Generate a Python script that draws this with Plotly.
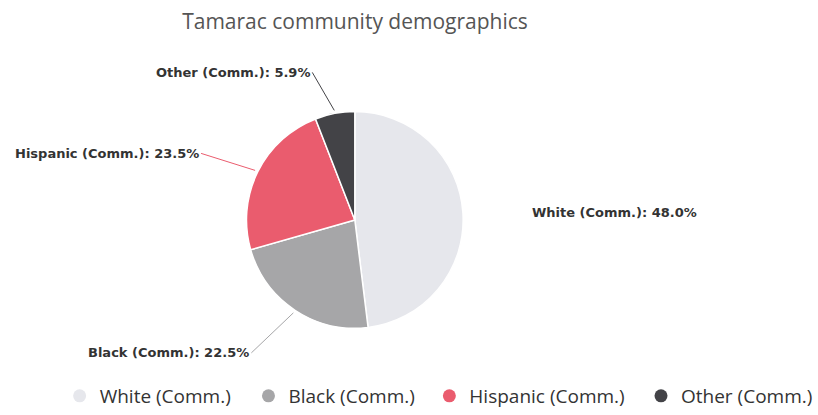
import math
import plotly.graph_objects as go

# ---- data ----
categories = ["White (Comm.)", "Black (Comm.)", "Hispanic (Comm.)", "Other (Comm.)"]
shares = [48.0, 22.5, 23.5, 5.9]
title_text = "Tamarac community demographics"

# ---- style ----
colors = ["#e6e7ec", "#a6a6a8", "#ea5c6e", "#434347"]
connector_colors = ["rgba(0,0,0,0)", "#a6a6a8", "#ea5c6e", "#434347"]
W, H = 818, 415
CX, CY, R = 357, 221, 109
# label offsets (pixels from connector tip to label anchor) and anchors
label_dx = [64, -42, -54, -22]
label_dy = [-1, 40, -17, -38]
label_anchor = ["left", "right", "right", "right"]
# legend entry marker centres (pixels)
legend_x = [80, 270, 452, 665]
legend_y = 398

fig = go.Figure()
fig.add_trace(go.Pie(
    labels=categories,
    values=shares,
    sort=False,
    direction="clockwise",
    rotation=0,
    marker=dict(colors=colors, line=dict(color="#ffffff", width=1.5)),
    textinfo="none",
    hoverinfo="label+percent",
    showlegend=False,
    domain=dict(x=[(CX - R) / W, (CX + R) / W], y=[1 - (CY + R) / H, 1 - (CY - R) / H]),
))

# legend entries with round markers, each in its own legend box
legend_names = ["legend", "legend2", "legend3", "legend4"]
for i, (name, col) in enumerate(zip(categories, colors)):
    fig.add_trace(go.Scatter(
        x=[None], y=[None], mode="markers", name=name,
        marker=dict(color=col, size=13, symbol="circle"),
        hoverinfo="skip", legend=legend_names[i],
    ))

# data labels with connectors, positioned from the slice mid-angles
total = sum(shares)
cum = 0.0
annotations = []
for i, (name, v) in enumerate(zip(categories, shares)):
    mid = (cum + v / 2) / total * 2 * math.pi
    cum += v
    tip_x = CX + (R + 3) * math.sin(mid)
    tip_y = CY - (R + 3) * math.cos(mid)
    annotations.append(dict(
        x=tip_x / W, y=1 - tip_y / H, xref="paper", yref="paper",
        text=f"<b>{name}: {v:.1f}%</b>",
        showarrow=True, arrowhead=0, arrowwidth=1, arrowcolor=connector_colors[i],
        ax=label_dx[i], ay=label_dy[i], axref="pixel", ayref="pixel",
        xanchor=label_anchor[i], yanchor="middle",
        font=dict(family="DejaVu Sans", size=13, color="#333333"),
    ))

legend_style = dict(orientation="h", yanchor="middle", y=1 - legend_y / H, xanchor="left",
                    font=dict(family="Open Sans", size=19, color="#333333"),
                    bgcolor="rgba(0,0,0,0)")
layout_legends = {}
for i, ln in enumerate(legend_names):
    layout_legends[ln] = dict(legend_style, x=(legend_x[i] - 20) / W)

fig.update_layout(
    width=W, height=H,
    margin=dict(l=0, r=0, t=0, b=0),
    paper_bgcolor="#ffffff", plot_bgcolor="#ffffff",
    title=dict(text=title_text, x=355 / W, xanchor="center", y=1 - 22 / H, yanchor="middle",
               font=dict(family="Open Sans", size=21, color="#555555")),
    xaxis=dict(visible=False), yaxis=dict(visible=False),
    annotations=annotations,
    **layout_legends,
)

fig.write_html("out.html")
